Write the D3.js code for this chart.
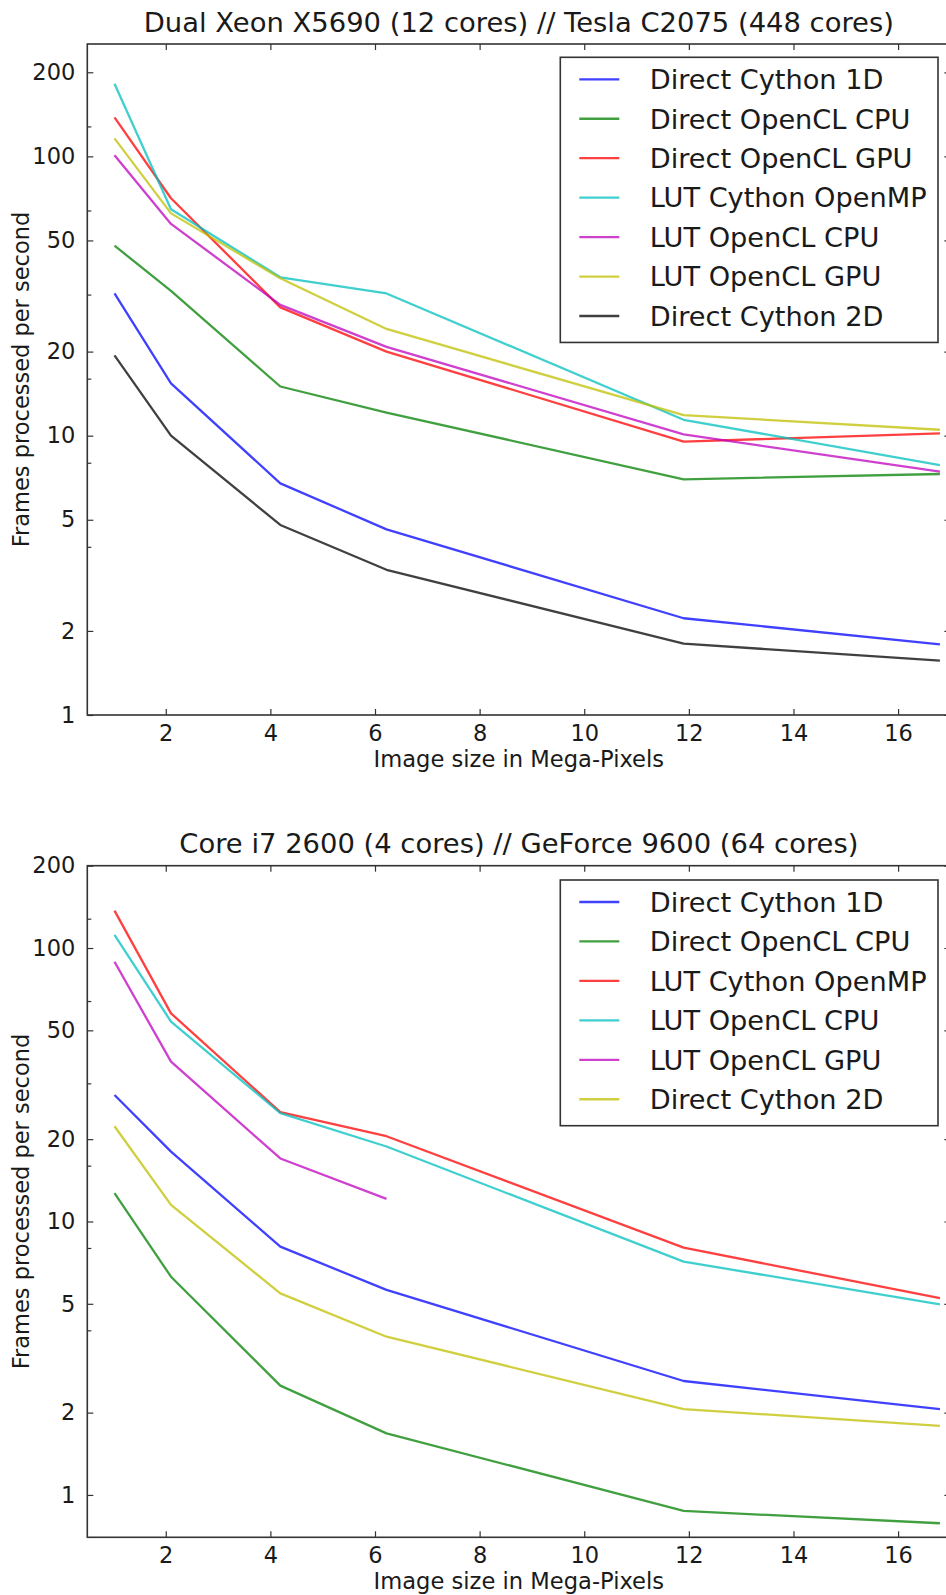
<!DOCTYPE html>
<html>
<head>
<meta charset="utf-8">
<script src="https://cdn.jsdelivr.net/npm/d3@7"></script>
<style>
  body { margin: 0; background: #fff; }
  text { font-family: "DejaVu Sans", sans-serif; fill: #1a1a1a; }
</style>
</head>
<body>
<div id="chart"></div>
<script>
// image sizes (Mega-Pixels)
var sizes = [1.02, 2.1, 4.19, 6.22, 11.9, 16.8];

// Dual Xeon X5690 // Tesla C2075
var xeonTitle = "Dual Xeon X5690 (12 cores) // Tesla C2075 (448 cores)";
var xeonNames = ["Direct Cython 1D", "Direct OpenCL CPU", "Direct OpenCL GPU",
                 "LUT Cython OpenMP", "LUT OpenCL CPU", "LUT OpenCL GPU", "Direct Cython 2D"];
var xeonCython1D    = [32.3, 15.4, 6.75, 4.62, 2.22, 1.79];
var xeonOclCpu      = [47.9, 33.0, 15.0, 12.1, 6.98, 7.29];
var xeonOclGpu      = [138, 70.8, 28.8, 20.0, 9.52, 10.2];
var xeonLutOpenMP   = [182, 64.7, 36.9, 32.3, 11.4, 7.85];
var xeonLutOclCpu   = [101, 57.3, 29.4, 20.8, 10.1, 7.43];
var xeonLutOclGpu   = [116, 62.5, 36.6, 24.1, 11.85, 10.5];
var xeonCython2D    = [19.4, 10.0, 4.79, 3.31, 1.80, 1.565];

// Core i7 2600 // GeForce 9600
var i7Title = "Core i7 2600 (4 cores) // GeForce 9600 (64 cores)";
var i7Names = ["Direct Cython 1D", "Direct OpenCL CPU", "LUT Cython OpenMP",
               "LUT OpenCL CPU", "LUT OpenCL GPU", "Direct Cython 2D"];
var i7Cython1D   = [29.0, 18.0, 8.09, 5.62, 2.61, 2.06];
var i7OclCpu     = [12.7, 6.28, 2.51, 1.68, 0.874, 0.788];
var i7LutOpenMP  = [137, 57.7, 25.1, 20.5, 8.02, 5.24];
var i7LutOclCpu  = [111.6, 53.8, 24.9, 18.8, 7.13, 4.98];
var i7LutOclGpu  = [89.1, 38.4, 17.0, 12.1];
var i7Cython2D   = [22.3, 11.5, 5.46, 3.79, 2.06, 1.79];

var xTicks = [2, 4, 6, 8, 10, 12, 14, 16];
var yTicks = [1, 2, 5, 10, 20, 50, 100, 200];
var yMinor = [4, 8, 16, 32, 64, 128];

// matplotlib classic colour cycle
var colors = ["#0000ff", "#008000", "#ff0000", "#00bfbf", "#bf00bf", "#bfbf00", "#000000"];

var svg = d3.select("#chart")
    .append("svg")
    .attr("width", 946)
    .attr("height", 1595);

function draw_panel(opts) {
    var left = 87.3, right = 950.4;
    var x = d3.scaleLinear().domain([0.5, 17]).range([left, right]);
    var y = d3.scaleLog().domain(opts.ydomain).range([opts.bottom, opts.top]);

    var g = svg.append("g");

    // clip so lines stay inside the axes
    var clipId = "clip" + opts.id;
    g.append("clipPath").attr("id", clipId)
      .append("rect")
        .attr("x", left).attr("y", opts.top)
        .attr("width", right - left).attr("height", opts.bottom - opts.top);

    var line = d3.line()
        .x(function(d) { return x(d[0]) })
        .y(function(d) { return y(d[1]) });

    var plot = g.append("g").attr("clip-path", "url(#" + clipId + ")");
    opts.series.forEach(function(vals, i) {
        var pts = vals.map(function(v, j) { return [sizes[j], v] });
        plot.append("path")
            .datum(pts)
            .attr("d", line)
            .attr("fill", "none")
            .attr("stroke", colors[i])
            .attr("stroke-opacity", 0.75)
            .attr("stroke-width", 2.3)
            .attr("stroke-linejoin", "round");
    });

    // axes, ticks pointing inwards like matplotlib classic
    var axisStyle = function(sel) {
        sel.select(".domain").remove();
        sel.selectAll("line").attr("stroke", "#333").attr("stroke-width", 1.2);
        sel.selectAll("text").style("font-size", "22.5px").attr("fill", "#1a1a1a");
    };

    g.append("g")
        .attr("transform", "translate(0," + opts.bottom + ")")
        .call(d3.axisBottom(x).tickValues(xTicks).tickSize(-6).tickPadding(0).tickFormat(d3.format("d")))
        .call(axisStyle)
        .selectAll("text").attr("dy", null).attr("y", 26);

    g.append("g")
        .attr("transform", "translate(0," + opts.top + ")")
        .call(d3.axisTop(x).tickValues(xTicks).tickSize(-6).tickFormat(""))
        .call(axisStyle);

    g.append("g")
        .attr("transform", "translate(" + left + ",0)")
        .call(d3.axisLeft(y).tickValues(yTicks).tickSize(-6).tickPadding(12).tickFormat(d3.format("d")))
        .call(axisStyle);

    g.append("g")
        .attr("transform", "translate(" + left + ",0)")
        .call(d3.axisLeft(y).tickValues(yMinor).tickSize(-4).tickFormat(""))
        .call(axisStyle);

    g.append("g")
        .attr("transform", "translate(" + right + ",0)")
        .call(d3.axisRight(y).tickValues(yTicks).tickSize(-6).tickFormat(""))
        .call(axisStyle);

    g.append("g")
        .attr("transform", "translate(" + right + ",0)")
        .call(d3.axisRight(y).tickValues(yMinor).tickSize(-4).tickFormat(""))
        .call(axisStyle);

    // frame
    g.append("rect")
        .attr("x", left).attr("y", opts.top)
        .attr("width", right - left).attr("height", opts.bottom - opts.top)
        .attr("fill", "none")
        .attr("stroke", "#333")
        .attr("stroke-width", 1.6);

    // title and axis labels
    g.append("text")
        .attr("x", (left + right) / 2)
        .attr("y", opts.top - 12.5)
        .attr("text-anchor", "middle")
        .style("font-size", "27.4px")
        .text(opts.title);

    g.append("text")
        .attr("x", (left + right) / 2)
        .attr("y", opts.bottom + 52)
        .attr("text-anchor", "middle")
        .style("font-size", "22.6px")
        .text("Image size in Mega-Pixels");

    g.append("text")
        .attr("transform", "translate(28.5," + (opts.top + opts.bottom) / 2 + ") rotate(-90)")
        .attr("text-anchor", "middle")
        .style("font-size", "22.5px")
        .text("Frames processed per second");

    // legend
    var lx = 560.3, lw = 377.7, rowH = 39.45;
    var legend = g.append("g").attr("transform", "translate(" + lx + "," + opts.legendTop + ")");
    legend.append("rect")
        .attr("width", lw)
        .attr("height", opts.names.length * rowH + 9)
        .attr("fill", "#fff")
        .attr("stroke", "#333")
        .attr("stroke-width", 1.6);
    opts.names.forEach(function(name, i) {
        var cy = 22 + i * rowH;
        legend.append("line")
            .attr("x1", 19).attr("x2", 59)
            .attr("y1", cy).attr("y2", cy)
            .attr("stroke", colors[i])
            .attr("stroke-opacity", 0.75)
            .attr("stroke-width", 2.3);
        legend.append("text")
            .attr("x", 89.4)
            .attr("y", cy)
            .attr("dy", "0.36em")
            .style("font-size", "27.2px")
            .text(name);
    });
}

draw_panel({
    id: 1,
    title: xeonTitle,
    top: 44, bottom: 715,
    ydomain: [1, 252.5],
    legendTop: 57.3,
    names: xeonNames,
    series: [xeonCython1D, xeonOclCpu, xeonOclGpu, xeonLutOpenMP, xeonLutOclCpu, xeonLutOclGpu, xeonCython2D]
});

draw_panel({
    id: 2,
    title: i7Title,
    top: 865.7, bottom: 1537.3,
    ydomain: [0.7, 200],
    legendTop: 880,
    names: i7Names,
    series: [i7Cython1D, i7OclCpu, i7LutOpenMP, i7LutOclCpu, i7LutOclGpu, i7Cython2D]
});
</script>
</body>
</html>
